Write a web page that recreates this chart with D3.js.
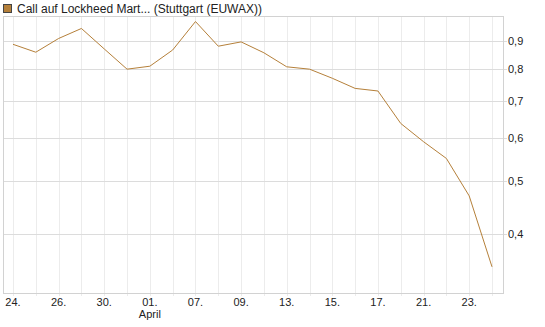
<!DOCTYPE html>
<html>
<head>
<meta charset="utf-8">
<script src="https://cdn.jsdelivr.net/npm/d3@7"></script>
<style>
  body { margin: 0; background: #fff; }
  svg { display: block; font-family: "Liberation Sans", Arial, sans-serif; }
</style>
</head>
<body>
<svg id="chart"></svg>
<script>
// day labels (one per trading day, label shown on every second day)
const days = ["24.", "25.", "26.", "27.", "30.", "31.", "01.", "02.", "07.", "08.", "09.",
              "10.", "13.", "14.", "15.", "16.", "17.", "20.", "21.", "22.", "23.", "24."];
const prices = [0.888, 0.859, 0.910, 0.949, 0.871, 0.800, 0.810, 0.867, 0.977, 0.881, 0.897,
                0.857, 0.808, 0.800, 0.770, 0.738, 0.730, 0.637, 0.590, 0.550, 0.470, 0.349];
const yTicks = [0.4, 0.5, 0.6, 0.7, 0.8, 0.9];
const seriesName = "Call auf Lockheed Mart... (Stuttgart (EUWAX))";

const width = 545, height = 327;
const margin = { top: 16, right: 42, bottom: 34, left: 3 };

const svg = d3.select("#chart")
  .attr("width", width)
  .attr("height", height);

const x = d3.scaleLinear()
  .domain([0, days.length - 1])
  .range([13, 492]);

const y = d3.scaleLog()
  .domain([0.3127, 1.0])
  .range([height - margin.bottom, margin.top]);

const plotR = width - margin.right;
const plotB = height - margin.bottom;

// vertical grid, every day
svg.append("g")
  .selectAll("line")
  .data(days)
  .join("line")
  .attr("x1", (d, i) => Math.round(x(i)) + 0.5)
  .attr("x2", (d, i) => Math.round(x(i)) + 0.5)
  .attr("y1", margin.top)
  .attr("y2", plotB + 3)
  .attr("stroke", "#ececec");

// horizontal grid
svg.append("g")
  .selectAll("line")
  .data(yTicks)
  .join("line")
  .attr("x1", margin.left)
  .attr("x2", plotR + 4)
  .attr("y1", d => Math.round(y(d)) + 0.5)
  .attr("y2", d => Math.round(y(d)) + 0.5)
  .attr("stroke", "#dcdcdc");

// frame
svg.append("rect")
  .attr("x", margin.left + 0.5)
  .attr("y", margin.top + 0.5)
  .attr("width", plotR - margin.left)
  .attr("height", plotB - margin.top)
  .attr("fill", "none")
  .attr("stroke", "#d2d2d2");

// y labels on the right
svg.append("g")
  .selectAll("text")
  .data(yTicks)
  .join("text")
  .attr("x", plotR + 5)
  .attr("y", d => y(d) + 4)
  .attr("font-size", 11)
  .attr("fill", "#222")
  .text(d => d3.format(".1f")(d).replace(".", ","));

// x labels, every second day
svg.append("g")
  .selectAll("text")
  .data(days.map((d, i) => ({ d, i })).filter(o => o.i % 2 === 0))
  .join("text")
  .attr("x", o => x(o.i))
  .attr("y", plotB + 13)
  .attr("text-anchor", "middle")
  .attr("font-size", 11)
  .attr("fill", "#222")
  .text(o => o.d);

svg.append("text")
  .attr("x", x(days.indexOf("01.")))
  .attr("y", plotB + 25)
  .attr("text-anchor", "middle")
  .attr("font-size", 11)
  .attr("fill", "#222")
  .text("April");

// price line
const line = d3.line()
  .x((d, i) => x(i))
  .y(d => y(d));

svg.append("path")
  .datum(prices)
  .attr("d", line)
  .attr("fill", "none")
  .attr("stroke", "#b5803a")
  .attr("stroke-width", 1);

// legend
svg.append("rect")
  .attr("x", 3.5)
  .attr("y", 4.5)
  .attr("width", 8)
  .attr("height", 8)
  .attr("fill", "#b5803a")
  .attr("stroke", "#444");

svg.append("text")
  .attr("x", 17)
  .attr("y", 13)
  .attr("font-size", 12)
  .attr("fill", "#222")
  .text(seriesName);
</script>
</body>
</html>
